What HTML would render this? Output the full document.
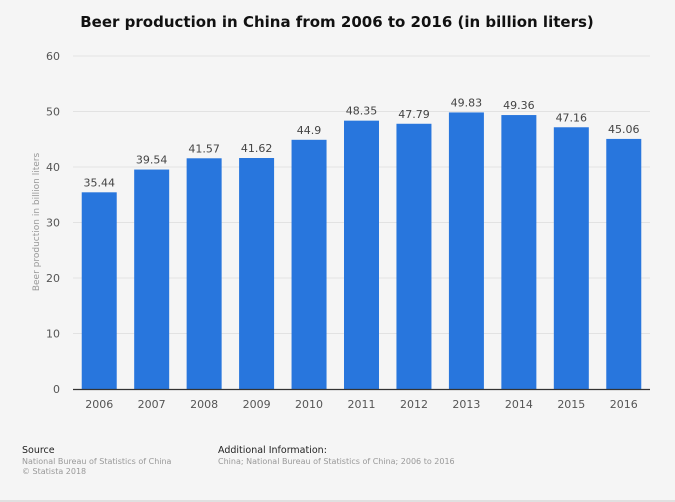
<!DOCTYPE html>
<html><head><meta charset="utf-8"><style>
body{margin:0;background:#f5f5f5;font-family:"DejaVu Sans","Liberation Sans",sans-serif}
svg{display:block}
</style></head><body>
<svg id="c" width="675" height="502" viewBox="0 0 675 502">
<rect width="675" height="502" fill="#f5f5f5"/>
<text x="337" y="27" text-anchor="middle" font-size="15" font-weight="bold" fill="#111">Beer production in China from 2006 to 2016 (in billion liters)</text>
<g id="grid"></g>
<g id="bars"></g>
<line x1="73" y1="389.5" x2="650" y2="389.5" stroke="#333" stroke-width="1.2"/>
<text transform="translate(39,222) rotate(-90)" text-anchor="middle" font-size="9" fill="#999">Beer production in billion liters</text>
<text x="22" y="453" font-size="9.5" fill="#222">Source</text>
<text x="22" y="464" font-size="8" fill="#999">National Bureau of Statistics of China</text>
<text x="22" y="474" font-size="8" fill="#999">© Statista 2018</text>
<text x="218" y="453" font-size="9.5" fill="#222">Additional Information:</text>
<text x="218" y="464" font-size="8" fill="#999">China; National Bureau of Statistics of China; 2006 to 2016</text>
<line x1="0" y1="501" x2="675" y2="501" stroke="#ccc"/>
</svg>
<script>
const categories=["2006","2007","2008","2009","2010","2011","2012","2013","2014","2015","2016"];
const values=[35.44,39.54,41.57,41.62,44.9,48.35,47.79,49.83,49.36,47.16,45.06];
const valueLabels=["35.44","39.54","41.57","41.62","44.9","48.35","47.79","49.83","49.36","47.16","45.06"];
const yTicks=[0,10,20,30,40,50,60];
const NS="http://www.w3.org/2000/svg";
const y0=389,yTop=56,yMax=60,x0=73,x1=650;
const y=v=>y0-(v/yMax)*(y0-yTop);
const step=(x1-x0)/categories.length;
const x=i=>x0+step*(i+0.5);
const bw=35;
function mk(t,a){const e=document.createElementNS(NS,t);for(const k in a)e.setAttribute(k,a[k]);return e;}
const grid=document.getElementById('grid'),bars=document.getElementById('bars');
yTicks.forEach(t=>{
  if(t>0){const l=mk('line',{x1:x0,x2:x1,y1:y(t),y2:y(t),stroke:'#e2e2e2','stroke-width':1});
  
  
  grid.appendChild(l);}
  const tx=mk('text',{x:60,y:y(t)+4,'text-anchor':'end','font-size':11,fill:'#555'});
  tx.textContent=t;
  
  
  grid.appendChild(tx);
});
categories.forEach((c,i)=>{
  const r=mk('rect',{x:x(i)-bw/2,y:y(values[i]),width:bw,height:y0-y(values[i]),fill:'#2876dd'});
  
  
  bars.appendChild(r);
  const v=mk('text',{x:x(i),y:y(values[i])-6,'text-anchor':'middle','font-size':11,fill:'#444'});
  v.textContent=valueLabels[i];
  
  
  bars.appendChild(v);
  const l=mk('text',{x:x(i),y:408,'text-anchor':'middle','font-size':11,fill:'#555'});
  l.textContent=c;
  
  
  bars.appendChild(l);
});
</script>
</body></html>
